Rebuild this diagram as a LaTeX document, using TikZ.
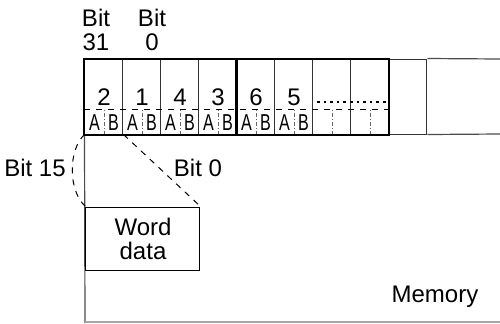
\documentclass[tikz,border=0pt]{standalone}
\usepackage{graphicx}
\usepackage{fontspec}
\setmainfont{Liberation Sans}
\usetikzlibrary{calc,positioning}
\tikzset{
  lbl/.style={font=\fontsize{12}{12}\selectfont,inner sep=0pt,align=center},
  ablbl/.style={font=\fontsize{11.5}{12}\selectfont,inner sep=0pt},
  cellbox/.style={draw=black!80,line width=.5pt,minimum width=19pt,minimum height=37.5pt,inner sep=0pt},
  abdiv/.style={draw=black!60,dash pattern=on 2pt off 1pt on .5pt off 1pt,line width=.4pt},
  wordline/.style={line width=1pt},
  frame/.style={draw=black!70,line width=.6pt},
  wordbox/.style={draw,line width=.5pt,minimum width=57pt,minimum height=31.5pt,inner sep=0pt,
    font=\fontsize{12}{12}\selectfont,align=center},
}
\newcommand{\bytecell}[5]{%
  \node[cellbox] (#1) at ({#2+19},96.5) {};
  \node[lbl] (#1n) at ({#2+19},97) {#3};
  \node[ablbl] (#1a) at ({#2+9.5},122.5) {\scalebox{.7}[1]{#4}};
  \node[ablbl] (#1b) at ({#2+28.5},122.5) {\scalebox{.7}[1]{#5}};
  \draw[abdiv] (#1.south) -- ++(0,-25);
}

\begin{document}
\begin{tikzpicture}[x=.5pt,y=-.5pt]
  \useasboundingbox (0,0) rectangle (500,323);
  % bit numbers over the register
  \node[lbl] (hi) at (96,30) {Bit\\31};
  \node[lbl] (lo) at (152,30) {Bit\\0};
  % byte cells
  \bytecell{c1}{85}{2}{A}{B}
  \bytecell{c2}{123}{1}{A}{B}
  \bytecell{c3}{161}{4}{A}{B}
  \bytecell{c4}{199}{3}{A}{B}
  \bytecell{c5}{237}{6}{A}{B}
  \bytecell{c6}{275}{5}{A}{B}
  \bytecell{c7}{313}{}{}{}
  \bytecell{c8}{351}{}{}{}
  \node[cellbox] (c9) at (408,96.5) {};
  \draw[dashed,line width=.5pt] (c1.west |- 0,109) -- (c8.east |- 0,109);
  \draw[dotted,line width=1.3pt] (317,102) -- (387,102);
  % memory frame
  \coordinate (mtop) at (500,59);
  \coordinate (mbot) at (500,134);
  \draw[frame] (c9.north east) -- (mtop);
  \draw[frame] (c9.south east) -- (mbot);
  \draw[frame] (c1.south west) -- (85,323);
  \draw[draw=black!35,line width=.6pt] (85,322) -- (500,322);
  \draw[wordline] (c1.south west) rectangle (c4.north east);
  \draw[wordline] (c5.south west) rectangle (c8.north east);
  \node[lbl] (mem) at (435,297) {Memory};
  % one word taken from memory
  \node[wordbox] (word) at (143,238.5) {Word\\data};
  \draw[dashed,line width=.5pt] (c1.south east) -- (word.north east);
  \draw[dashed,line width=.5pt] (c1.south west) .. controls (68,150) and (68,191) .. (word.north west);
  \node[lbl] (b15) at (35,168) {Bit 15};
  \node[lbl] (b0) at (198,168) {Bit 0};
\end{tikzpicture}
\end{document}
